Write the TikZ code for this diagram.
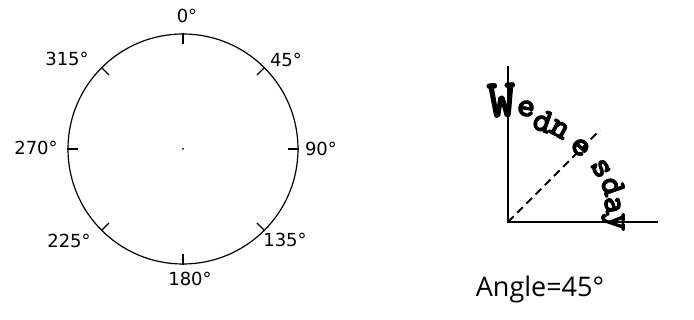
\documentclass[tikz,border=0pt]{standalone}
\usepackage{fontspec}
\setmainfont{DejaVu Sans}
\newfontfamily\opensans{Open Sans}
\newfontfamily\slabfont{lmmonolt10-bold.otf}[FakeBold=2.5]
\usetikzlibrary{calc}
\begin{document}
\begin{tikzpicture}[x=1pt,y=-1pt,
  dial/.style={line width=1.2pt},
  lab/.style={inner sep=0pt,font=\fontsize{18}{20}\selectfont},
  axis/.style={line width=2.4pt},
  guide/.style={line width=1.8pt,dash pattern=on 8pt off 5pt},
  letter/.style={inner sep=0pt,font=\slabfont\fontsize{#1}{#1}\selectfont}]
\useasboundingbox (0,0) rectangle (694,320);
% dial
\node[dial,draw,circle,minimum size=230pt,inner sep=0pt] (circ) at (183,149) {};
\fill (circ.center) circle (1pt);
\foreach \a in {90,45,0,-45,-90,-135,180,135}
  \draw[dial] (circ.\a) -- ($(circ.\a)!11pt!(circ.center)$);
\node[lab] (l0)   at (187,16)  {0°};
\node[lab] (l45)  at (286,60)  {45°};
\node[lab] (l90)  at (321,149) {90°};
\node[lab] (l135) at (285,240) {135°};
\node[lab] (l180) at (190,279) {180°};
\node[lab] (l225) at (69,241)  {225°};
\node[lab] (l270) at (36,148)  {270°};
\node[lab] (l315) at (67,59)   {315°};
% text on arc
\coordinate (O) at (508,222);
\coordinate (Vt) at (508,66);
\coordinate (Hr) at (658,222);
\coordinate (D) at ($(O)+(-45:130)$);
\draw[axis] (Vt) -- (O) -- (Hr);
\draw[guide] (O) -- (D);
\foreach \ch/\ang/\rad/\sz [count=\i] in {W/93/122/54,e/81/115/35,d/71/107/35,n/61/106/35,e/46/104/35,s/30/107/35,d/19/111/35,a/9/106/35,y/0/105/35}
  \node[letter=\sz,rotate=\ang-90] (L\i) at ($(O)+(-\ang:\rad)$) {\ch};
\node[inner sep=0pt,font=\opensans\fontsize{27}{30}\selectfont] (cap) at (540,289) {Angle=45°};
\end{tikzpicture}
\end{document}
